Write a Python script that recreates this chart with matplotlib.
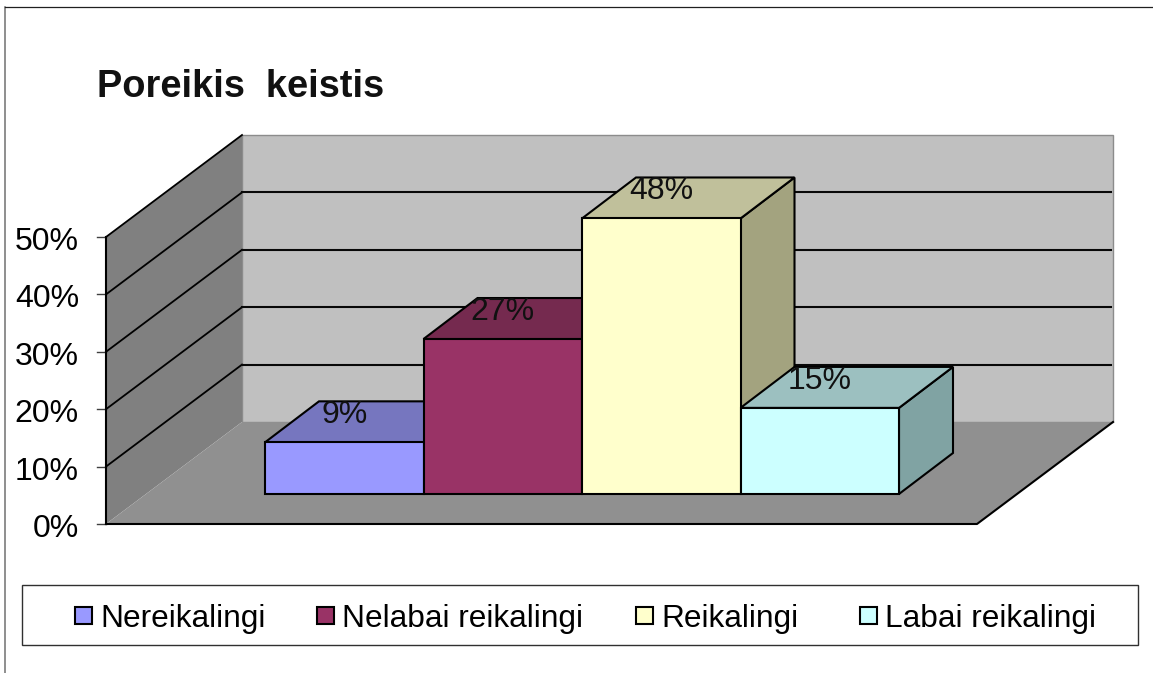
import matplotlib
matplotlib.use("Agg")
import matplotlib.pyplot as plt
from matplotlib.patches import Polygon, Rectangle

categories = ["Nereikalingi", "Nelabai reikalingi", "Reikalingi", "Labai reikalingi"]
values = [9, 27, 48, 15]
value_labels = ["9%", "27%", "48%", "15%"]
ticks = [0, 10, 20, 30, 40, 50]
tick_labels = ["0%", "10%", "20%", "30%", "40%", "50%"]
front_colors = ["#9999ff", "#993366", "#ffffcc", "#ccffff"]
top_colors = ["#7676bf", "#752a4f", "#c0c09b", "#9cc0c0"]
side_colors = ["#6f6fb0", "#6a2547", "#a3a37f", "#80a3a3"]
title = "Poreikis  keistis"

plt.rcParams["font.family"] = ["Liberation Sans", "DejaVu Sans"]
W, H = 1153, 673
fig = plt.figure(figsize=(W / 100, H / 100), dpi=100)
ax = fig.add_axes([0, 0, 1, 1])
ax.set_xlim(0, W)
ax.set_ylim(H, 0)
ax.axis("off")

X0, XW, Y0, PX = 106, 871, 524, 5.74
DX, DY = 136, -102
BAR_X, BAR_W = 265, 158.5
BAR_Y, BAR_DX, BAR_DY = 494, 54, -41
vy = lambda v: Y0 - v * PX
TOP = ticks[-1]
LW = 1.5
GREY = "#8c8c8c"

# Outer chart frame
ax.plot([5, 5], [H, 7], color="#707070", lw=1.1)
ax.plot([5, W], [7, 7], color="#202020", lw=0.9)

# Walls and floor
ax.add_patch(Polygon([(X0 + DX, vy(0) + DY), (X0 + XW + DX, vy(0) + DY),
                      (X0 + XW + DX, vy(TOP) + DY), (X0 + DX, vy(TOP) + DY)],
                     fc="#c0c0c0", ec=GREY, lw=1.0))
ax.add_patch(Polygon([(X0, vy(0)), (X0 + DX, vy(0) + DY),
                      (X0 + DX, vy(TOP) + DY), (X0, vy(TOP))],
                     fc="#808080", ec="none"))
ax.add_patch(Polygon([(X0, vy(0)), (X0 + XW, vy(0)), (X0 + XW + DX, vy(0) + DY),
                      (X0 + DX, vy(0) + DY)], fc="#909090", ec="none"))

# Gridlines and box edges
for t in ticks:
    y = vy(t)
    if t > 0:
        ax.plot([X0, X0 + DX], [y, y + DY], color="black", lw=1.3)
    if 0 < t < TOP:
        ax.plot([X0 + DX, X0 + XW + DX - 2], [y + DY, y + DY], color="#080808", lw=LW)
    ax.plot([X0 - 9, X0], [y, y], color="#404040", lw=1.0)
ax.plot([X0, X0], [vy(0), vy(TOP)], color="black", lw=LW)
ax.plot([X0, X0 + XW, X0 + XW + DX], [vy(0), vy(0), vy(0) + DY], color="black", lw=LW)

for t, lab in zip(ticks, tick_labels):
    ax.text(X0 - 27, vy(t) + 5, lab, ha="right", va="center", fontsize=23, color="black")

# Bars
for i, v in enumerate(values):
    x1 = BAR_X + i * BAR_W
    x2 = x1 + BAR_W
    h = v * PX
    yt = BAR_Y - h
    ax.add_patch(Polygon([(x2, BAR_Y), (x2 + BAR_DX, BAR_Y + BAR_DY),
                          (x2 + BAR_DX, yt + BAR_DY), (x2, yt)],
                         fc=side_colors[i], ec="black", lw=LW, zorder=3))
    ax.add_patch(Polygon([(x1, yt), (x2, yt), (x2 + BAR_DX, yt + BAR_DY),
                          (x1 + BAR_DX, yt + BAR_DY)],
                         fc=top_colors[i], ec="black", lw=LW, zorder=3))
    ax.add_patch(Rectangle((x1, yt), BAR_W, h, fc=front_colors[i], ec="black", lw=LW, zorder=4))
for i, (v, lab) in enumerate(zip(values, value_labels)):
    x1 = BAR_X + i * BAR_W
    yt = BAR_Y - v * PX
    ax.text(x1 + BAR_W / 2, yt + BAR_DY + 14, lab, ha="center", va="center",
            fontsize=23, color="#111111", zorder=6)

# Title
ax.text(97, 87, title, ha="left", va="center", fontsize=27.4, fontweight="bold", color="#111111")

# Legend
ax.add_patch(Rectangle((22, 585), 1116, 60, fc="white", ec="#303030", lw=1.0, zorder=5))
swatch_x = [75, 317, 636, 860]
for x, c, name in zip(swatch_x, front_colors, categories):
    ax.add_patch(Rectangle((x, 607), 17, 17, fc=c, ec="black", lw=LW, zorder=6))
    ax.text(x + 25, 616, name, ha="left", va="center_baseline", fontsize=22.8, color="black", zorder=6)

fig.savefig("out.png", dpi=100)
